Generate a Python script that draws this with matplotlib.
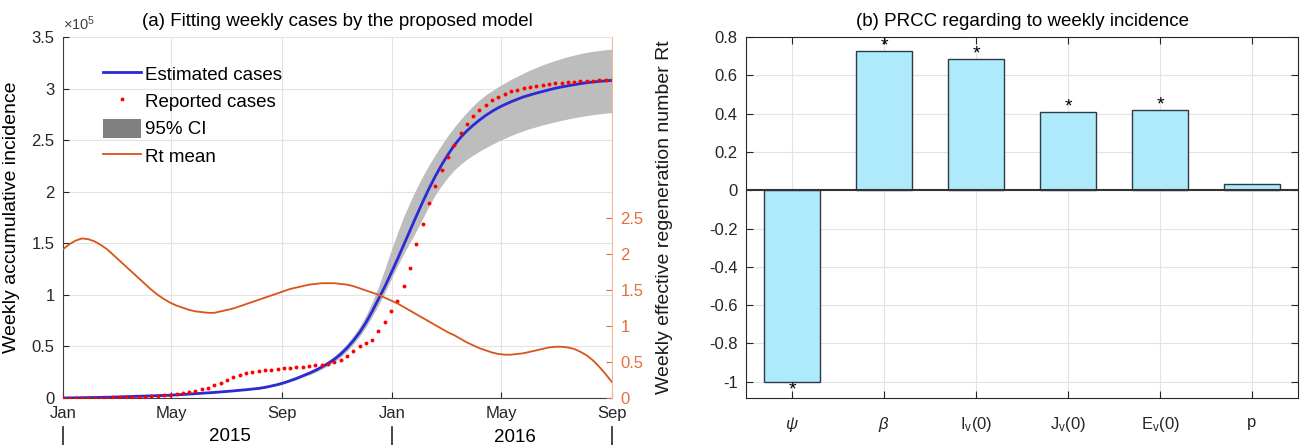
import numpy as np
import pandas as pd
import matplotlib
matplotlib.use('Agg')
import matplotlib.pyplot as plt
import matplotlib.dates as mdates
from matplotlib.lines import Line2D
from matplotlib.patches import Patch
from matplotlib.ticker import FuncFormatter

plt.rcParams['font.family'] = ['Liberation Sans', 'DejaVu Sans']
plt.rcParams['mathtext.fontset'] = 'custom'
plt.rcParams['mathtext.rm'] = 'Liberation Sans'
plt.rcParams['mathtext.it'] = 'Liberation Sans:italic'

# ---- panel (a) data, weekly from 2015-01-01 (cases in units of 1e5) ----
weeks = pd.date_range('2015-01-01', periods=88, freq='7D')

reported = [0.000, 0.001, 0.001, 0.002, 0.002, 0.003, 0.003, 0.004, 0.005, 0.006,
            0.007, 0.008, 0.010, 0.012, 0.016, 0.020, 0.026, 0.034, 0.043, 0.051,
            0.060, 0.070, 0.083, 0.100, 0.123, 0.144, 0.171, 0.201, 0.227, 0.243,
            0.256, 0.266, 0.273, 0.276, 0.281, 0.287, 0.291, 0.296, 0.302, 0.309,
            0.316, 0.322, 0.334, 0.345, 0.366, 0.409, 0.458, 0.500, 0.535, 0.560,
            0.647, 0.735, 0.840, 0.940, 1.085, 1.260, 1.490, 1.690, 1.890, 2.060,
            2.210, 2.335, 2.457, 2.565, 2.652, 2.730, 2.790, 2.843, 2.886, 2.920,
            2.948, 2.972, 2.988, 3.004, 3.015, 3.028, 3.037, 3.044, 3.051, 3.056,
            3.061, 3.066, 3.069, 3.073, 3.076, 3.079, 3.082, 3.085]

estimated = [0.000, 0.001, 0.002, 0.003, 0.004, 0.005, 0.006, 0.008, 0.009, 0.011,
             0.013, 0.015, 0.017, 0.019, 0.021, 0.023, 0.025, 0.027, 0.031, 0.034,
             0.038, 0.042, 0.046, 0.050, 0.054, 0.059, 0.064, 0.069, 0.075, 0.080,
             0.087, 0.093, 0.103, 0.116, 0.130, 0.147, 0.168, 0.190, 0.215, 0.240,
             0.268, 0.300, 0.335, 0.375, 0.425, 0.485, 0.555, 0.635, 0.730, 0.840,
             0.960, 1.080, 1.210, 1.345, 1.485, 1.625, 1.765, 1.900, 2.030, 2.150,
             2.260, 2.360, 2.450, 2.525, 2.590, 2.645, 2.695, 2.740, 2.780, 2.815,
             2.845, 2.872, 2.897, 2.920, 2.938, 2.956, 2.972, 2.988, 3.003, 3.016,
             3.027, 3.038, 3.048, 3.057, 3.064, 3.070, 3.075, 3.080]

ci_upper = [0.000, 0.001, 0.002, 0.003, 0.004, 0.005, 0.006, 0.008, 0.010, 0.012,
            0.014, 0.016, 0.018, 0.020, 0.022, 0.024, 0.026, 0.029, 0.033, 0.036,
            0.040, 0.044, 0.048, 0.053, 0.057, 0.062, 0.067, 0.073, 0.079, 0.085,
            0.092, 0.099, 0.110, 0.123, 0.138, 0.156, 0.178, 0.202, 0.228, 0.256,
            0.287, 0.322, 0.362, 0.408, 0.462, 0.525, 0.600, 0.690, 0.800, 0.930,
            1.080, 1.250, 1.430, 1.600, 1.760, 1.900, 2.030, 2.150, 2.260, 2.360,
            2.455, 2.545, 2.625, 2.700, 2.770, 2.835, 2.890, 2.940, 2.980, 3.020,
            3.055, 3.090, 3.120, 3.150, 3.180, 3.205, 3.230, 3.252, 3.272, 3.292,
            3.310, 3.325, 3.340, 3.352, 3.362, 3.370, 3.377, 3.383]

ci_lower = [0.000, 0.001, 0.002, 0.003, 0.004, 0.005, 0.006, 0.007, 0.008, 0.010,
            0.012, 0.014, 0.016, 0.018, 0.020, 0.022, 0.024, 0.025, 0.029, 0.032,
            0.036, 0.040, 0.044, 0.047, 0.051, 0.056, 0.061, 0.065, 0.071, 0.075,
            0.082, 0.087, 0.096, 0.109, 0.122, 0.138, 0.158, 0.178, 0.202, 0.224,
            0.249, 0.280, 0.312, 0.350, 0.397, 0.454, 0.520, 0.596, 0.686, 0.790,
            0.900, 1.020, 1.150, 1.280, 1.400, 1.510, 1.620, 1.740, 1.860, 1.970,
            2.060, 2.140, 2.210, 2.265, 2.315, 2.355, 2.393, 2.428, 2.460, 2.490,
            2.518, 2.545, 2.570, 2.592, 2.612, 2.630, 2.647, 2.663, 2.678, 2.692,
            2.705, 2.717, 2.728, 2.738, 2.747, 2.755, 2.762, 2.768]

rt_mean = [2.06, 2.13, 2.18, 2.21, 2.20, 2.17, 2.12, 2.06, 1.98, 1.90,
           1.82, 1.74, 1.66, 1.58, 1.50, 1.43, 1.37, 1.32, 1.28, 1.25,
           1.22, 1.20, 1.19, 1.18, 1.18, 1.20, 1.22, 1.24, 1.27, 1.30,
           1.33, 1.36, 1.39, 1.42, 1.45, 1.48, 1.51, 1.53, 1.55, 1.57,
           1.58, 1.59, 1.59, 1.59, 1.58, 1.57, 1.55, 1.52, 1.49, 1.46,
           1.43, 1.39, 1.35, 1.31, 1.26, 1.21, 1.16, 1.11, 1.06, 1.01,
           0.96, 0.91, 0.87, 0.82, 0.77, 0.73, 0.69, 0.66, 0.63, 0.61,
           0.60, 0.60, 0.61, 0.62, 0.64, 0.66, 0.68, 0.70, 0.71, 0.71,
           0.70, 0.68, 0.64, 0.59, 0.52, 0.43, 0.33, 0.22]

month_ticks = pd.to_datetime(['2015-01-01', '2015-05-01', '2015-09-01',
                              '2016-01-01', '2016-05-01', '2016-09-01'])
year_labels = ['2015', '2016']

# ---- panel (b) data ----
params = [r'$\psi$', r'$\beta$', r'I$_{\rm v}$(0)', r'J$_{\rm v}$(0)', r'E$_{\rm v}$(0)', 'p']
prcc = [-1.0, 0.727, 0.685, 0.409, 0.421, 0.03]
significant = [True, True, True, True, True, False]

ORANGE = '#D95319'
GRID = '#e3e3e3'

fig = plt.figure(figsize=(13.01, 4.45), dpi=100)
ax = fig.add_axes([0.0484, 0.1056, 0.4220, 0.8112])
ax_r = ax.twinx()

scale = 1e5
ax.fill_between(weeks, np.array(ci_lower) * scale, np.array(ci_upper) * scale,
                color='#bdbdbd', lw=0, zorder=1)
ax.plot(weeks, np.array(estimated) * scale, color='#2a2ad6', lw=2, zorder=3)
ax.plot(weeks, np.array(reported) * scale, ls='none', marker='o', ms=2.8,
        color='red', mec='none', zorder=4)
ax_r.plot(weeks, rt_mean, color=ORANGE, lw=1.3)

ax.set_xlim(month_ticks[0], month_ticks[-1])
ax.set_ylim(0, 3.5e5)
ax.set_yticks(np.arange(0, 3.51e5, 0.5e5))
ax.yaxis.set_major_formatter(FuncFormatter(lambda v, p: '%g' % (v / scale)))
ax.set_xticks(month_ticks)
ax.xaxis.set_major_formatter(mdates.DateFormatter('%b'))
ax.grid(True, color=GRID, lw=0.8)
ax.set_axisbelow(True)
ax.tick_params(direction='in', length=4, labelsize=12, colors='#262626', pad=6)
for s in ['left', 'bottom']:
    ax.spines[s].set_color('#404040')
ax.spines['top'].set_visible(False)
ax.spines['right'].set_visible(False)
ax.set_ylabel('Weekly accumulative incidence', fontsize=14, labelpad=8)
ax.text(0.0, 1.012, r'$\times10^5$', transform=ax.transAxes, fontsize=10.5,
        color='#404040', ha='left', va='bottom')
ax.set_title('(a) Fitting weekly cases by the proposed model', fontsize=13.5, pad=8)

ax_r.set_ylim(0, 5)
ax_r.set_yticks(np.arange(0, 2.51, 0.5))
ax_r.yaxis.set_major_formatter(FuncFormatter(lambda v, p: '%g' % v))
ax_r.tick_params(direction='in', length=4, labelsize=12, colors='#e2703f', pad=6)
ax_r.spines['right'].set_color('#f2b8a0')
for s in ['left', 'top', 'bottom']:
    ax_r.spines[s].set_visible(False)
ax_r.set_ylabel('Weekly effective regeneration number Rt', fontsize=14,
                labelpad=9, color='#1a1a1a')

# year row under the month labels
for d in [month_ticks[0], month_ticks[3], month_ticks[-1]]:
    ax.add_line(Line2D([d, d], [-0.08, -0.13], transform=ax.get_xaxis_transform(),
                       color='#262626', lw=1.2, clip_on=False))
ax.text(0.304, -0.107, year_labels[0], transform=ax.transAxes, fontsize=13.5,
        ha='center', va='center')
ax.text(0.823, -0.11, year_labels[1], transform=ax.transAxes, fontsize=13.5,
        ha='center', va='center')

handles = [Line2D([], [], color='#2a2ad6', lw=2),
           Line2D([], [], ls='none', marker='o', ms=2.8, color='red', mec='none'),
           Patch(facecolor='#808080', edgecolor='none'),
           Line2D([], [], color=ORANGE, lw=1.3)]
ax.legend(handles, ['Estimated cases', 'Reported cases', '95% CI', 'Rt mean'],
          loc='upper left', bbox_to_anchor=(0.06, 0.945), frameon=False,
          fontsize=13.5, handlelength=2.0, handleheight=1.2, handletextpad=0.2,
          labelspacing=0.38, borderaxespad=0)

# ---- panel (b) ----
bx = fig.add_axes([0.5734, 0.1056, 0.4243, 0.8112])
xpos = np.arange(1, len(params) + 1)
bx.bar(xpos, prcc, width=0.6, color='#aeeafb', edgecolor='#2b3a44', lw=1, zorder=3)
bx.axhline(0, color='#333333', lw=1.5, zorder=4)
for x, v, sig in zip(xpos, prcc, significant):
    if not sig:
        continue
    off = 0.025 if v > 0 else -0.045
    bx.text(x, v + off, '*', ha='center', va='center', fontsize=14, zorder=5)

bx.set_xlim(0.5, 6.5)
bx.set_ylim(-1.085, 0.8)
bx.set_yticks(np.arange(-1, 0.81, 0.2))
bx.yaxis.set_major_formatter(FuncFormatter(lambda v, p: '%g' % (round(v, 1) + 0.0)))
bx.set_xticks(xpos)
bx.set_xticklabels(params)
bx.grid(True, color=GRID, lw=0.8)
bx.set_axisbelow(True)
bx.tick_params(direction='in', length=5, labelsize=12, colors='#262626',
               top=True, right=True, pad=6)
bx.tick_params(axis='x', pad=12)
for s in bx.spines.values():
    s.set_color('#262626')
bx.set_title('(b) PRCC regarding to weekly incidence', fontsize=13.5, pad=8)

fig.savefig('out.png', dpi=100)
